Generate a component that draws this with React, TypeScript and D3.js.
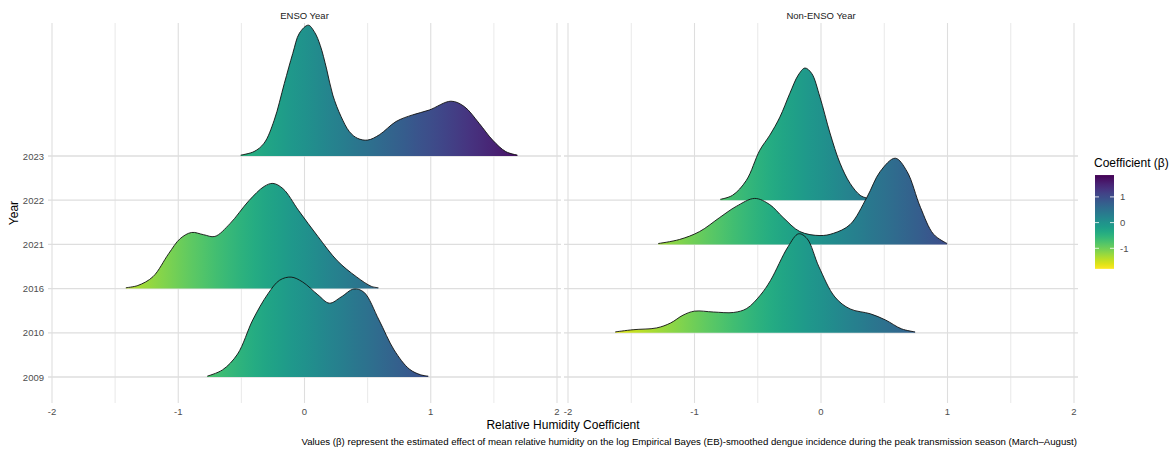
import React from "react";
import * as d3 from "d3";

// ---------- data ----------
const years = ["2009", "2010", "2016", "2021", "2022", "2023"];
const panels = ["ENSO Year", "Non-ENSO Year"];
const xMajorTicks = [-2, -1, 0, 1, 2];
const xMinorTicks = [-1.5, -0.5, 0.5, 1.5];
const legendTicks = [-1, 0, 1];
const coefDomain = [-1.8, 1.85];

// density curves: [coefficient, ridge height in row units]
const enso2023: [number, number][] = [
  [-0.505, 0.02], [-0.4, 0.1], [-0.32, 0.29], [-0.24, 0.81], [-0.16, 1.64], [-0.093, 2.32],
  [-0.04, 2.78], [0.03, 2.96], [0.08, 2.8], [0.125, 2.5], [0.175, 1.97], [0.224, 1.38],
  [0.29, 0.89], [0.356, 0.55], [0.42, 0.4], [0.5, 0.36], [0.593, 0.48], [0.725, 0.78],
  [0.856, 0.93], [0.988, 1.04], [1.16, 1.24], [1.265, 1.12], [1.383, 0.74], [1.49, 0.36],
  [1.594, 0.1], [1.686, 0.02],
];
const enso2016: [number, number][] = [
  [-1.415, 0.02], [-1.32, 0.07], [-1.2, 0.27], [-1.076, 0.79], [-0.985, 1.13], [-0.894, 1.27],
  [-0.8, 1.22], [-0.71, 1.18], [-0.59, 1.47], [-0.44, 1.99], [-0.32, 2.31], [-0.25, 2.38],
  [-0.17, 2.26], [-0.045, 1.76], [0.106, 1.18], [0.26, 0.63], [0.41, 0.27], [0.53, 0.05], [0.585, 0.02],
];
const enso2009: [number, number][] = [
  [-0.77, 0.02], [-0.65, 0.16], [-0.53, 0.52], [-0.41, 1.29], [-0.29, 1.88], [-0.197, 2.19],
  [-0.106, 2.26], [-0.015, 2.15], [0.106, 1.86], [0.197, 1.67], [0.29, 1.81], [0.39, 1.99],
  [0.47, 1.92], [0.59, 1.29], [0.71, 0.61], [0.83, 0.18], [0.92, 0.05], [0.98, 0.02],
];
const nonEnso2022: [number, number][] = [
  [-0.796, 0.02], [-0.7, 0.11], [-0.59, 0.45], [-0.484, 1.13], [-0.405, 1.47], [-0.325, 1.88],
  [-0.246, 2.42], [-0.18, 2.83], [-0.127, 2.99], [-0.074, 2.87], [-0.008, 2.33], [0.071, 1.52],
  [0.15, 0.84], [0.23, 0.38], [0.31, 0.11], [0.36, 0.05], [0.415, 0.02],
];
const nonEnso2021: [number, number][] = [
  [-1.287, 0.02], [-1.12, 0.11], [-0.96, 0.29], [-0.8, 0.61], [-0.67, 0.86], [-0.524, 1.04],
  [-0.405, 0.9], [-0.3, 0.61], [-0.167, 0.29], [-0.008, 0.2], [0.098, 0.25], [0.23, 0.45],
  [0.362, 1.06], [0.468, 1.65], [0.587, 1.95], [0.68, 1.65], [0.786, 0.84], [0.89, 0.23], [0.997, 0.02],
];
const nonEnso2010: [number, number][] = [
  [-1.627, 0.02], [-1.485, 0.07], [-1.3, 0.11], [-1.19, 0.22], [-1.09, 0.4], [-1.0, 0.49],
  [-0.85, 0.47], [-0.69, 0.46], [-0.587, 0.55], [-0.48, 0.85], [-0.4, 1.18], [-0.26, 1.95],
  [-0.177, 2.24], [-0.11, 2.13], [-0.016, 1.49], [0.11, 0.81], [0.23, 0.54], [0.39, 0.43],
  [0.51, 0.29], [0.636, 0.09], [0.744, 0.02],
];

const ridges = [
  { panel: "ENSO Year", year: "2023", values: enso2023 },
  { panel: "ENSO Year", year: "2016", values: enso2016 },
  { panel: "ENSO Year", year: "2009", values: enso2009 },
  { panel: "Non-ENSO Year", year: "2022", values: nonEnso2022 },
  { panel: "Non-ENSO Year", year: "2021", values: nonEnso2021 },
  { panel: "Non-ENSO Year", year: "2010", values: nonEnso2010 },
];

const xTitle = "Relative Humidity Coefficient";
const yTitle = "Year";
const legendTitle = "Coefficient (\u03b2)";
const caption =
  "Values (\u03b2) represent the estimated effect of mean relative humidity on the log Empirical Bayes (EB)-smoothed dengue incidence during the peak transmission season (March\u2013August)";

// ---------- layout ----------
const W = 1175;
const H = 451;
const FONT = "'Liberation Sans', Arial, Helvetica, sans-serif";
const panelTop = 23;
const panelBottom = 403;
const panelRanges: [number, number][] = [
  [52, 557],
  [568, 1074],
];
const pad = 4;

export default function App() {
  const yScale = d3.scalePoint<string>().domain(years).range([377, 156]);
  const step = (yScale(years[0])! - yScale(years[years.length - 1])!) / (years.length - 1);
  const color = d3
    .scaleSequential(d3.interpolateViridis)
    .domain([coefDomain[1], coefDomain[0]])
    .clamp(true);

  const legendY = d3.scaleLinear().domain([-1, 1]).range([248.3, 196.9]);
  const barTop = legendY(coefDomain[1]);
  const barBottom = legendY(coefDomain[0]);
  const gradStops = d3.range(0, 41).map((i) => -2 + i * 0.1);

  return (
    <svg
      width={W}
      height={H}
      style={{ position: "absolute", left: 0, top: 0, background: "#fff" }}
      fontFamily={FONT}
    >
      <defs>
        {panels.map((p, pi) => {
          const xs = d3.scaleLinear().domain([-2, 2]).range(panelRanges[pi]);
          return (
            <linearGradient
              key={p}
              id={`fillgrad${pi}`}
              gradientUnits="userSpaceOnUse"
              x1={xs(-2)}
              x2={xs(2)}
              y1={0}
              y2={0}
            >
              {gradStops.map((v) => (
                <stop key={v} offset={(v + 2) / 4} stopColor={color(v)} />
              ))}
            </linearGradient>
          );
        })}
        <linearGradient
          id="legendgrad"
          gradientUnits="userSpaceOnUse"
          x1={0}
          x2={0}
          y1={barBottom}
          y2={barTop}
        >
          {d3.range(0, 21).map((i) => {
            const v = coefDomain[0] + ((coefDomain[1] - coefDomain[0]) * i) / 20;
            return <stop key={i} offset={i / 20} stopColor={color(v)} />;
          })}
        </linearGradient>
      </defs>

      {panels.map((p, pi) => {
        const xs = d3.scaleLinear().domain([-2, 2]).range(panelRanges[pi]);
        const left = xs(-2) - pad;
        const right = xs(2) + pad;
        const area = d3
          .area<[number, number]>()
          .x((d) => xs(d[0]))
          .y0(0)
          .y1((d) => -d[1] * step)
          .curve(d3.curveCatmullRom.alpha(0.5));
        const line = d3
          .line<[number, number]>()
          .x((d) => xs(d[0]))
          .y((d) => -d[1] * step)
          .curve(d3.curveCatmullRom.alpha(0.5));
        return (
          <g key={p}>
            {xMinorTicks.map((t) => (
              <line
                key={"mn" + t}
                x1={xs(t)}
                x2={xs(t)}
                y1={panelTop}
                y2={panelBottom}
                stroke="#e3e3e3"
                strokeWidth={0.8}
              />
            ))}
            {xMajorTicks.map((t) => (
              <line
                key={"mj" + t}
                x1={xs(t)}
                x2={xs(t)}
                y1={panelTop}
                y2={panelBottom}
                stroke="#dedede"
                strokeWidth={1.1}
              />
            ))}
            {years.map((y) => (
              <line
                key={"h" + y}
                x1={left}
                x2={right}
                y1={yScale(y)}
                y2={yScale(y)}
                stroke="#dedede"
                strokeWidth={1.3}
              />
            ))}
            {ridges
              .filter((r) => r.panel === p)
              .map((r) => (
                <g key={r.year} transform={`translate(0,${yScale(r.year)})`}>
                  <path d={area(r.values) || ""} fill={`url(#fillgrad${pi})`} />
                  <path
                    d={line(r.values) || ""}
                    fill="none"
                    stroke="#111"
                    strokeWidth={0.9}
                  />
                </g>
              ))}
            <text
              x={(xs(-2) + xs(2)) / 2}
              y={15}
              textAnchor="middle"
              dominantBaseline="central"
              fontSize={9.5}
              fill="#1a1a1a"
            >
              {p}
            </text>
            {xMajorTicks.map((t) => (
              <text
                key={"xl" + t}
                x={xs(t)}
                y={411}
                textAnchor="middle"
                dominantBaseline="central"
                fontSize={9.5}
                fill="#4d4d4d"
              >
                {t}
              </text>
            ))}
          </g>
        );
      })}

      {years.map((y) => (
        <text
          key={"yl" + y}
          x={44}
          y={yScale(y)}
          textAnchor="end"
          dominantBaseline="central"
          fontSize={9.5}
          fill="#4d4d4d"
        >
          {y}
        </text>
      ))}

      <text
        transform={`translate(14,${(panelTop + panelBottom) / 2}) rotate(-90)`}
        textAnchor="middle"
        dominantBaseline="central"
        fontSize={12}
        fill="#000"
      >
        {yTitle}
      </text>
      <text
        x={(panelRanges[0][0] + panelRanges[1][1]) / 2}
        y={425}
        textAnchor="middle"
        dominantBaseline="central"
        fontSize={12}
        fill="#000"
      >
        {xTitle}
      </text>
      <text
        x={1077}
        y={441}
        textAnchor="end"
        dominantBaseline="central"
        fontSize={9.65}
        fill="#000"
      >
        {caption}
      </text>

      {/* legend */}
      <text x={1094} y={163} dominantBaseline="central" fontSize={12} fill="#000">
        {legendTitle}
      </text>
      <rect
        x={1095}
        y={barTop}
        width={19}
        height={barBottom - barTop}
        fill="url(#legendgrad)"
      />
      {legendTicks.map((t) => (
        <g key={"lt" + t}>
          <line x1={1095} x2={1099} y1={legendY(t)} y2={legendY(t)} stroke="#fff" strokeWidth={0.8} />
          <line x1={1110} x2={1114} y1={legendY(t)} y2={legendY(t)} stroke="#fff" strokeWidth={0.8} />
          <text
            x={1120}
            y={legendY(t)}
            dominantBaseline="central"
            fontSize={9.5}
            fill="#4d4d4d"
          >
            {t}
          </text>
        </g>
      ))}
    </svg>
  );
}
